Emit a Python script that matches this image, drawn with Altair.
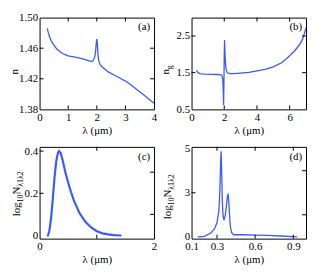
import altair as alt
import pandas as pd

FONT = "Liberation Serif"
BLUE = "#3a5aff"
W, H = 116, 93

# ---------------- data ----------------
a_lam = [0.27, 0.30, 0.35, 0.40, 0.50, 0.60, 0.70, 0.80, 1.00, 1.20, 1.40, 1.60, 1.75, 1.82,
         1.88, 1.93, 1.96, 1.98, 2.00, 2.02, 2.04, 2.07, 2.12, 2.20, 2.40, 2.60, 2.80, 3.00,
         3.20, 3.40, 3.60, 3.80, 4.00]
a_n = [1.486, 1.481, 1.475, 1.470, 1.464, 1.459, 1.456, 1.453, 1.450, 1.4485, 1.447, 1.445,
       1.443, 1.4425, 1.444, 1.449, 1.457, 1.466, 1.472, 1.466, 1.452, 1.443, 1.438, 1.435,
       1.429, 1.425, 1.421, 1.417, 1.412, 1.406, 1.400, 1.394, 1.388]

b_lam = [0.30, 0.40, 0.55, 0.80, 1.20, 1.60, 1.80, 1.87, 1.91, 1.94, 1.96, 1.98, 2.00, 2.02,
         2.04, 2.07, 2.10, 2.15, 2.22, 2.35, 2.60, 3.00, 3.50, 4.00, 4.50, 5.00, 5.50, 5.80,
         6.00, 6.30, 6.60, 6.80, 7.00]
b_ng = [1.56, 1.50, 1.47, 1.46, 1.455, 1.45, 1.44, 1.41, 1.30, 1.00, 0.62, 1.20, 2.00, 2.39,
        2.10, 1.80, 1.62, 1.53, 1.49, 1.475, 1.475, 1.49, 1.51, 1.55, 1.59, 1.66, 1.77, 1.88,
        1.96, 2.09, 2.26, 2.42, 2.72]

c_lam = [0.14, 0.17, 0.20, 0.23, 0.26, 0.29, 0.32, 0.34, 0.37, 0.40, 0.45, 0.50, 0.55, 0.60,
         0.70, 0.80, 0.90, 1.00, 1.10, 1.20, 1.30, 1.43]
c_val = [-0.005, 0.02, 0.08, 0.17, 0.27, 0.35, 0.39, 0.40, 0.39, 0.36, 0.30, 0.25, 0.205,
         0.165, 0.105, 0.065, 0.038, 0.020, 0.010, 0.005, 0.002, 0.0]

d_lam = [0.15, 0.20, 0.25, 0.28, 0.30, 0.315, 0.322, 0.328, 0.332, 0.336, 0.342, 0.348, 0.355,
         0.365, 0.375, 0.383, 0.388, 0.393, 0.398, 0.405, 0.415, 0.43, 0.50, 0.60, 0.70, 0.80,
         0.90, 0.93]
d_val = [0.0, 0.03, 0.2, 0.45, 0.8, 1.5, 2.5, 4.0, 4.85, 4.0, 2.0, 1.2, 0.95, 1.2, 1.8, 2.35,
         2.4, 2.0, 1.3, 0.6, 0.25, 0.12, 0.12, 0.10, 0.08, 0.05, 0.02, 0.0]

# axis tick labels
a_xticks = [0, 1, 2, 3, 4]
a_yticks = [1.38, 1.42, 1.46, 1.50]
b_xticks = [0, 2, 4, 6]
b_yticks = [0.5, 1.5, 2.5]
c_xticks = [0, 1, 2]
c_yticks = [0, 0.2, 0.4]
d_xticks = [0.1, 0.3, 0.6, 0.9]
d_yticks = [0, 2.5, 5]

# inner (mirrored) tick marks
a_xin, a_yl, a_yr = [1, 2, 3], [1.42, 1.46], [1.42, 1.46]
b_xin, b_yl, b_yr = [2, 4, 6], [1.5, 2.5], [1.5, 2.5]
c_xin, c_yl, c_yr = [1], [0.2, 0.4], [0.1, 0.3]
d_xin, d_yl, d_yr = [0.3, 0.6, 0.9], [2.5], [1.25, 3.75]

CW = {'l': 0.278, 'o': 0.5, 'g': 0.5, '0': 0.5, '1': 0.5, '2': 0.5, 'N': 0.722,
      'λ': 0.55, 'n': 0.5}
ONE = pd.DataFrame({"k": [0]})


def rot_title(parts, xb, yc):
    """parts: (text, size, subscript?) drawn bottom-to-top, centred at yc."""
    widths = [sum(CW.get(ch, 0.5) for ch in t) * s for t, s, _ in parts]
    total = sum(widths)
    y = yc + total / 2
    out = []
    for (t, s, sub), w in zip(parts, widths):
        out.append(alt.Chart(ONE).mark_text(text=t, font=FONT, fontSize=s, angle=270,
                                             align="left", baseline="alphabetic",
                                             color="black")
                   .encode(x=alt.value(xb + (3 if sub else 0)), y=alt.value(y)))
        y -= w
    return out


def panel(lam, val, xdom, ydom, xt, yt, xfmt, yfmt, xin, yl, yr, tag, title, sw=1.3, h=H):
    df = pd.DataFrame({"lam": lam, "v": val})
    xs = alt.Scale(domain=xdom, nice=False, zero=False)
    ys = alt.Scale(domain=ydom, nice=False, zero=False)
    xa = alt.Axis(values=xt, format=xfmt, title="λ (μm)")
    ya = alt.Axis(values=yt, format=yfmt, title=None)
    line = alt.Chart(df).mark_line(color=BLUE, strokeWidth=sw, clip=True).encode(
        x=alt.X("lam:Q", scale=xs, axis=xa, title="λ (μm)"),
        y=alt.Y("v:Q", scale=ys, axis=ya, title=None),
    )
    layers = [line]
    tx = pd.DataFrame({"lam": xin})
    layers.append(alt.Chart(tx).mark_rule(color="black", strokeWidth=1).encode(
        x=alt.X("lam:Q", scale=xs, axis=xa, title="λ (μm)"), y=alt.value(h), y2=alt.value(h - 4)))
    layers.append(alt.Chart(tx).mark_rule(color="black", strokeWidth=1).encode(
        x=alt.X("lam:Q", scale=xs, axis=xa, title="λ (μm)"), y=alt.value(0), y2=alt.value(4)))
    layers.append(alt.Chart(pd.DataFrame({"v": yl})).mark_rule(color="black").encode(
        y=alt.Y("v:Q", scale=ys, axis=ya, title=None), x=alt.value(0), x2=alt.value(4)))
    layers.append(alt.Chart(pd.DataFrame({"v": yr})).mark_rule(color="black").encode(
        y=alt.Y("v:Q", scale=ys, axis=ya, title=None), x=alt.value(W - 4), x2=alt.value(W)))
    layers.append(alt.Chart(ONE).mark_text(text=tag, font=FONT, fontSize=11, align="right",
                                           baseline="middle", color="black")
                  .encode(x=alt.value(W - 4), y=alt.value(10)))
    layers += title
    return alt.layer(*layers).properties(width=W, height=h)


pa = panel(a_lam, a_n, [0, 4], [1.38, 1.50], a_xticks, a_yticks, "d", ".2f",
           a_xin, a_yl, a_yr, "(a)", rot_title([("n", 11, False)], -22, 55))
pb = panel(b_lam, b_ng, [0, 7], [0.5, 3.0], b_xticks, b_yticks, "d", ".1f",
           b_xin, b_yl, b_yr, "(b)", rot_title([("n", 11, False), ("g", 8, True)], -23, 53))
pc = panel(c_lam, c_val, [0, 2], [-0.015, 0.42], c_xticks, c_yticks, "d", "~g",
           c_xin, c_yl, c_yr, "(c)",
           rot_title([("log", 11, False), ("10", 8, True), ("N", 11, False),
                      ("λ1λ2", 8, True)], -20, 47), sw=2.2)
pd_ = panel(d_lam, d_val, [0.1, 1.0], [-0.1, 5.1], d_xticks, d_yticks, ".1f", "~g",
            d_xin, d_yl, d_yr, "(d)",
            rot_title([("log", 11, False), ("10", 8, True), ("N", 11, False),
                       ("λ1λ2", 8, True)], -21, 50), sw=1.3)

chart = alt.concat(pa, pb, pc, pd_, columns=2, spacing=38, bounds="flush").properties(
    padding={"left": 0, "top": 1, "right": 0, "bottom": 0}
).configure_view(stroke="black", strokeWidth=1).configure_axis(
    labelFont=FONT, titleFont=FONT, labelFontSize=11, titleFontSize=11,
    titleFontWeight="normal", labelColor="black", titleColor="black",
    grid=False, domain=False, ticks=False, labelFlush=False, labelOverlap=False,
    labelPadding=2, titlePadding=2
).configure_axisX(labelPadding=2)

chart.save("out.html", embed_options={"renderer": "svg", "actions": False})
